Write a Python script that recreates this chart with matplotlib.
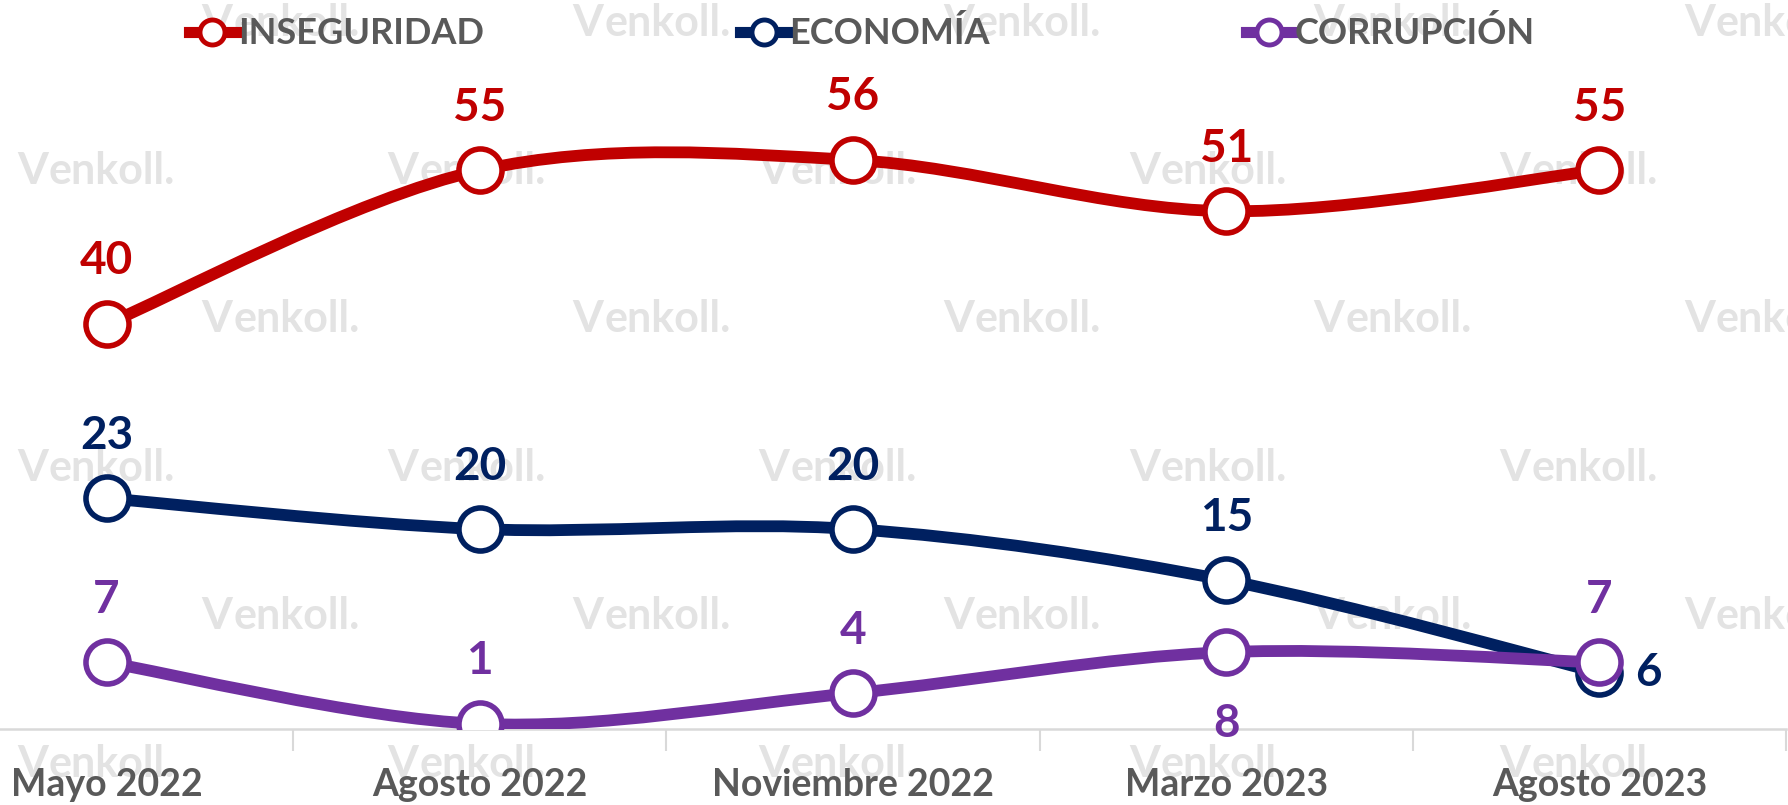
import numpy as np
import matplotlib.pyplot as plt
from matplotlib.path import Path
from matplotlib.patches import PathPatch
from matplotlib.lines import Line2D

plt.rcParams['font.family'] = ['Lato', 'DejaVu Sans']
plt.rcParams['font.weight'] = 'bold'

# data
periodos = ['Mayo 2022', 'Agosto 2022', 'Noviembre 2022', 'Marzo 2023', 'Agosto 2023']
inseguridad = [40, 55, 56, 51, 55]
economia = [23, 20, 20, 15, 6]
corrupcion = [7, 1, 4, 8, 7]

series_names = ['INSEGURIDAD', 'ECONOMÍA', 'CORRUPCIÓN']
series_colors = ['#C00000', '#002060', '#7030A0']
# where each data label goes
label_pos = [
    ['above'] * 5,
    ['above', 'above', 'above', 'above', 'right'],
    ['above', 'above', 'above', 'below', 'above'],
]
text_gray = '#595959'


def smooth_path(x, y):
    # excel-like smoothed line (catmull-rom to bezier)
    pts = np.column_stack([x, y]).astype(float)
    n = len(pts)
    verts = [pts[0]]
    codes = [Path.MOVETO]
    for i in range(n - 1):
        p0 = pts[max(i - 1, 0)]
        p1 = pts[i]
        p2 = pts[i + 1]
        p3 = pts[min(i + 2, n - 1)]
        c1 = p1 + (p2 - p0) / 6.0
        c2 = p2 - (p3 - p1) / 6.0
        verts += [c1, c2, p2]
        codes += [Path.CURVE4] * 3
    return Path(verts, codes)


W, H = 1788, 805
fig = plt.figure(figsize=(W / 100, H / 100), dpi=100)

# watermark grid (behind everything)
wm_color = '#E3E3E3'
row_y = [23, 171, 319, 468, 616, 764]
for r, yy in enumerate(row_y):
    x0 = 17 if r % 2 == 1 else -169
    for k in range(6):
        xx = x0 + 370.6 * k
        fig.text(xx / W, 1 - yy / H, 'V', color=wm_color, fontsize=32,
                 fontweight='bold', ha='left', va='center', zorder=-5)
        fig.text((xx + 32) / W, 1 - yy / H, 'enkoll.', color=wm_color, fontsize=31,
                 fontweight='bold', ha='left', va='center', zorder=-5)

ax = fig.add_axes([-80 / W, 76 / H, 1866 / W, 729 / H])
ax.patch.set_alpha(0)
ax.set_xlim(-0.5, 4.5)
ax.set_ylim(0.5, 71.6)

x = np.arange(len(periodos))
all_series = [inseguridad, economia, corrupcion]
for vals, col, poss in zip(all_series, series_colors, label_pos):
    ax.add_patch(PathPatch(smooth_path(x, vals), fill=False, edgecolor=col, lw=8.5,
                           capstyle='round', joinstyle='round', zorder=3))
    ax.plot(x, vals, ls='none', marker='o', ms=31, mfc='white', mec=col, mew=4, zorder=4)
    for xi, v, p in zip(x, vals, poss):
        if p == 'above':
            off = (0, 45)
        elif p == 'below':
            off = (0, -52)
        else:
            off = (35, 0)
        ax.annotate(str(v), (xi, v), xytext=off, textcoords='offset points',
                    ha='center', va='center', fontsize=33, fontweight='bold', color=col, zorder=5)

# axis styling
for s in ['top', 'right', 'left']:
    ax.spines[s].set_visible(False)
ax.spines['bottom'].set_color('#D9D9D9')
ax.spines['bottom'].set_linewidth(1.8)
ax.set_yticks([])
ax.set_xticks(np.arange(-0.5, 5, 1))
ax.set_xticklabels([])
ax.tick_params(axis='x', which='major', length=16, width=1.5, color='#D9D9D9', direction='out')
ax.set_xticks(x, minor=True)
ax.set_xticklabels(periodos, minor=True)
ax.tick_params(axis='x', which='minor', length=0, pad=28, labelsize=27, labelcolor=text_gray)

# legend
handles = [Line2D([0], [0], color=c, lw=8, marker='o', ms=18, mfc='white', mec=c, mew=3.5)
           for c in series_colors]
leg = fig.legend(handles, series_names, loc='upper center', bbox_to_anchor=(0.482, 1.02),
                 ncol=3, frameon=False, fontsize=26, handlelength=1.3, handletextpad=0.05,
                 columnspacing=7.1)
for t in leg.get_texts():
    t.set_color(text_gray)

fig.savefig('out.png', dpi=100)
